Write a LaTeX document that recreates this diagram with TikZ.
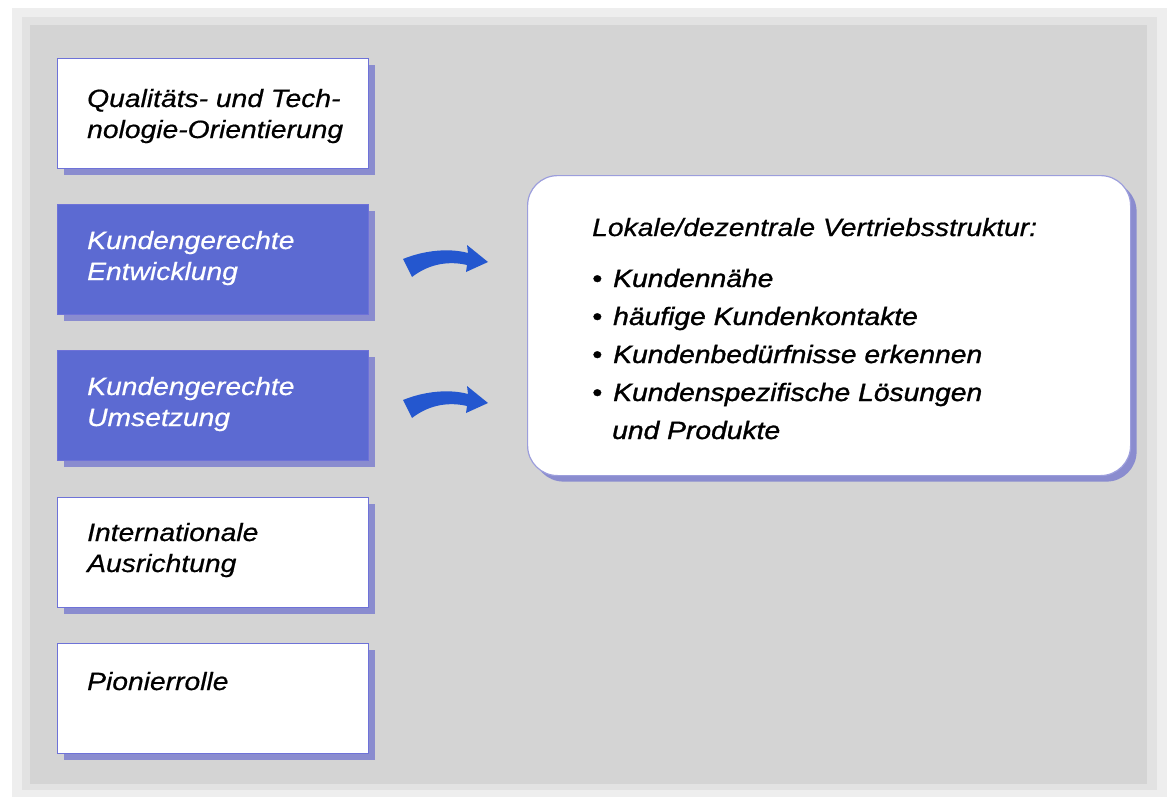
\documentclass[tikz,border=0pt]{standalone}
\usepackage{fontspec}
\setmainfont{Liberation Sans}[FakeStretch=1.13]
\newfontfamily\itemfont{Liberation Sans}[FakeStretch=1.13, FakeBold=1.2]
\newfontfamily\boxfont{Liberation Sans}[FakeStretch=1.13, FakeBold=0.6]
\usetikzlibrary{calc,shadows}
\definecolor{outerbg}{HTML}{EEEEEE}
\definecolor{midbg}{HTML}{E2E2E2}
\definecolor{innerbg}{HTML}{D4D4D4}
\definecolor{boxblue}{HTML}{5C6AD2}
\definecolor{boxline}{HTML}{6E72D8}
\definecolor{shadowblue}{HTML}{8A8CCF}
\definecolor{mainline}{HTML}{9C9EDC}
\definecolor{arrowblue}{HTML}{2457CF}
\newcommand{\bul}{\makebox[21pt][l]{•}}
\begin{document}
\begin{tikzpicture}[x=1pt,y=-1pt,
  lbox/.style={draw=boxline, line width=1.2pt, minimum width=311pt, minimum height=110pt,
    anchor=north west, inner sep=0pt,
    drop shadow={shadow xshift=6pt, shadow yshift=-6pt, fill=shadowblue, opacity=1}},
  whitebox/.style={lbox, fill=white},
  bluebox/.style={lbox, fill=boxblue},
  lbl/.style={anchor=base west, inner sep=0pt, align=left,
    font=\boxfont\fontsize{25}{31}\selectfont\itshape},
  mainbox/.style={draw=mainline, line width=1.2pt, fill=white, rounded corners=30pt,
    minimum width=603pt, minimum height=300pt, anchor=north west, inner sep=0pt,
    drop shadow={shadow xshift=6pt, shadow yshift=-6pt, fill=shadowblue, opacity=1}},
  bigarrow/.style={fill=arrowblue}
]
\useasboundingbox (0,0) rectangle (1171,798);
\fill[white] (0,0) rectangle (1171,798);
\fill[outerbg] (12,8) rectangle (1167,797);
\fill[midbg] (22,17) rectangle (1157,790);
\fill[innerbg] (30,25) rectangle (1147,784);

\node[whitebox] (b1) at (57,58) {};
\node[bluebox]  (b2) at (57,204) {};
\node[bluebox]  (b3) at (57,350) {};
\node[whitebox] (b4) at (57,497) {};
\node[whitebox] (b5) at (57,643) {};

% base anchor of a multi-line node = baseline of its last line
\node[lbl] (t1) at ($(b1.north west)+(30,80)$) {Qualitäts- und Tech-\\nologie-Orientierung};
\node[lbl, text=white] (t2) at ($(b2.north west)+(30,76)$) {Kundengerechte\\Entwicklung};
\node[lbl, text=white] (t3) at ($(b3.north west)+(30,76)$) {Kundengerechte\\Umsetzung};
\node[lbl] (t4) at ($(b4.north west)+(30,75)$) {Internationale\\Ausrichtung};
\node[lbl] (t5) at ($(b5.north west)+(30,47)$) {Pionierrolle};

\node[mainbox] (m) at (527,175) {};
\node[lbl] (mh) at ($(m.north west)+(65,61)$) {Lokale/dezentrale Vertriebsstruktur:};
\node[lbl, font=\itemfont\fontsize{25}{38}\selectfont\itshape] (mi) at ($(m.north west)+(65,264)$)
  {\bul Kundennähe\\\bul häufige Kundenkontakte\\\bul Kundenbedürfnisse erkennen\\\bul Kundenspezifische Lösungen\\\hspace*{20pt}und Produkte};

\coordinate (a1) at (0,0);
\coordinate (a2) at (0,141);
\foreach \c in {a1,a2}{
  \fill[bigarrow, shift={(\c)}] (403,259) .. controls (425,250) and (450,248) .. (468,253)
    -- (467,245) -- (488,262) -- (466,272) -- (467,265)
    .. controls (450,261) and (430,263) .. (412,277) -- cycle;
}
\end{tikzpicture}
\end{document}
